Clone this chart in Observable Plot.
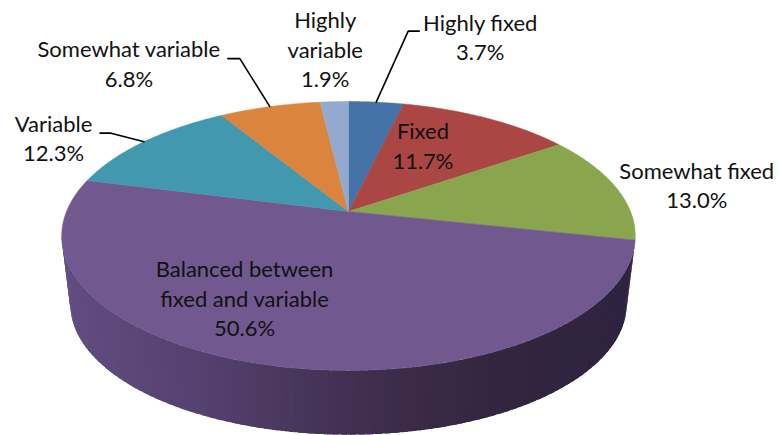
<!DOCTYPE html>
<html>
<head>
<meta charset="utf-8">
<script src="https://cdn.jsdelivr.net/npm/d3@7"></script>
<script src="https://cdn.jsdelivr.net/npm/@observablehq/plot@0.6"></script>
<style>
  html, body { margin: 0; padding: 0; background: #fff; }
  svg { display: block; }
</style>
</head>
<body>
<div id="chart"></div>
<script>
// Share of respondents per category, clockwise from twelve o'clock.
const categories = ["Highly fixed", "Fixed", "Somewhat fixed", "Balanced", "Variable", "Somewhat variable", "Highly variable"];
const shares = [3.7, 11.7, 13.0, 50.6, 12.3, 6.8, 1.9];
const labelLines = [
  "Highly fixed\n3.7%",
  "Fixed\n11.7%",
  "Somewhat fixed\n13.0%",
  "Balanced between\nfixed and variable\n50.6%",
  "Variable\n12.3%",
  "Somewhat variable\n6.8%",
  "Highly\nvariable\n1.9%"
];
const sliceColors = ["#4572a7", "#aa4643", "#89a54e", "#71588f", "#4198af", "#db843d", "#93a9cf"];

// Label offsets from each slice's rim midpoint, and the elbows of its leader line.
const placement = {
  "Highly fixed":      {dx: 104,  dy: -66,   leader: [[32, -71], [43, -71]]},
  "Fixed":             {dx: -64,  dy: 26.5,  leader: null},
  "Somewhat fixed":    {dx: 81,   dy: -3,    leader: null},
  "Balanced":          {dx: -25,  dy: -68,   leader: null},
  "Variable":          {dx: -90.5, dy: -4.5, leader: [[-33, -8.5], [-44, -8.5]]},
  "Somewhat variable": {dx: -141, dy: -44,   leader: [[-30, -48], [-42, -48]]},
  "Highly variable":   {dx: -9,   dy: -53.5, leader: null}
};

// Tilted disc: a unit circle seen in perspective, apex set off towards the far rim.
const tilt = 0.182;
const apex = [348, 211];
const disc = (scale, cy) => (deg) => {
  const a = deg * Math.PI / 180, u = Math.sin(a), v = Math.cos(a), w = 1 + tilt * v;
  return [apex[0] + scale * 282 * u / w, cy - scale * 130 * v / w];
};
const topFace = disc(1, apex[1]);
const baseFace = disc(0.97, 280);

// Build the slices from the shares.
let running = 0;
const slices = categories.map((name, i) => {
  const start = running * 3.6;
  running += shares[i];
  return {name, start, end: running * 3.6, mid: (start + running * 3.6) / 2, label: labelLines[i]};
});

const sliceOutlines = slices.flatMap((s) => {
  const n = Math.ceil((s.end - s.start) / 0.5);
  const rim = d3.range(n + 1).map((k) => topFace(s.start + (s.end - s.start) * k / n));
  return [apex, ...rim, apex].map(([x, y]) => ({x, y, name: s.name}));
});

// The visible wall belongs to the largest slice; shaded in narrow overlapping bands.
const wallSlice = slices[3];
const wallEnd = 259.5;
const wallShade = d3.scaleLinear()
  .domain([62, 200, 370, 500, 636])
  .range(["#614d80", "#544170", "#3f2e4e", "#33253f", "#2e2340"]);
const wallStrips = d3.range(wallSlice.start, wallEnd, 1.5).flatMap((a, i) => {
  const b = Math.min(a + 2.5, wallEnd);
  const corners = [topFace(a), topFace((a + b) / 2), topFace(b), baseFace(b), baseFace((a + b) / 2), baseFace(a), topFace(a)];
  const shade = wallShade(topFace(a)[0]);
  return corners.map(([x, y]) => ({x, y, strip: i, shade}));
});

const labelMarks = slices.map((s) => {
  const [x, y] = topFace(s.mid);
  const p = placement[s.name];
  return Plot.text([s], {
    x: () => x, y: () => y, text: "label", dx: p.dx, dy: p.dy,
    fontFamily: "Lato", fontSize: 22, lineHeight: 1.33, fill: "#111", textAnchor: "middle"
  });
});

const leaderMarks = slices.filter((s) => placement[s.name].leader).map((s) => {
  const [x, y] = topFace(s.mid);
  const pts = [[x, y], ...placement[s.name].leader.map(([dx, dy]) => [x + dx, y + dy])];
  return Plot.line(pts, {x: (d) => d[0], y: (d) => d[1], stroke: "#000", strokeWidth: 1.6});
});

const chart = Plot.plot({
  width: 779, height: 435, margin: 0,
  style: {background: "#fff"},
  x: {domain: [0, 779], range: [0, 779], axis: null},
  y: {domain: [0, 435], range: [0, 435], axis: null},
  color: {domain: categories, range: sliceColors},
  marks: [
    Plot.line(wallStrips, {
      x: "x", y: "y", z: "strip",
      fill: {value: (d) => d.shade, scale: null},
      stroke: "none"
    }),
    Plot.line(sliceOutlines, {
      x: "x", y: "y", z: "name", fill: "name", stroke: "name", strokeWidth: 0.5
    }),
    ...leaderMarks,
    ...labelMarks
  ]
});
document.getElementById("chart").append(chart);
</script>
</body>
</html>
